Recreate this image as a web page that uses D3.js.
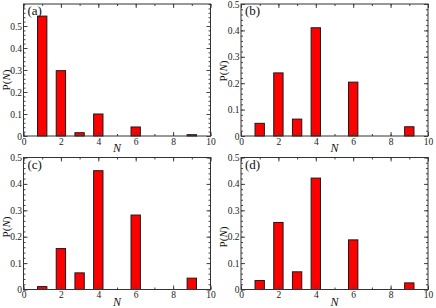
<!DOCTYPE html>
<html>
<head>
<meta charset="utf-8">
<script src="https://cdn.jsdelivr.net/npm/d3@7"></script>
<style>
  body { margin: 0; background: #fff; }
  svg text { font-family: "Liberation Serif", "DejaVu Serif", serif; }
</style>
</head>
<body>
<main></main>
<script>
// Data
const categories = [1, 2, 3, 4, 6, 9];
const seriesA = [0.545, 0.297, 0.015, 0.100, 0.041, 0.006];
const seriesB = [0.048, 0.239, 0.064, 0.410, 0.204, 0.035];
const seriesC = [0.011, 0.155, 0.063, 0.450, 0.282, 0.043];
const seriesD = [0.034, 0.254, 0.067, 0.422, 0.188, 0.025];
const panelLabels = ['(a)', '(b)', '(c)', '(d)'];
const yMaxes = [0.6, 0.5, 0.5, 0.5];
const xTicks = [0, 2, 4, 6, 8, 10];
const yTicks = [0, 0.1, 0.2, 0.3, 0.4, 0.5];

const series = [seriesA, seriesB, seriesC, seriesD];

// Layout
const width = 436, height = 308;
const panelW = 218, panelH = 154;
const margin = {left: 24, top: 4, right: 7};
const plotW = 187, plotH = 132;
const yLabelY = [80, 71, 73, 83];

const svg = d3.select('main').append('svg')
    .attr('width', width)
    .attr('height', height);

series.forEach((values, i) => {
    const col = i % 2, row = Math.floor(i / 2);
    const top = row === 0 ? margin.top : 3.5;
    const g = svg.append('g')
        .attr('transform', `translate(${col * panelW + margin.left - (col ? 1 : 0.5)},${row * panelH + top})`);

    const x = d3.scaleLinear().domain([0, 10]).range([0, plotW]);
    const y = d3.scaleLinear().domain([0, yMaxes[i]]).range([plotH, 0]);

    const minorY = d3.range(0, yMaxes[i] + 1e-9, 0.02);
    const minorX = d3.range(0, 11, 1);
    const barW = x(0.5) - x(0);

    // bars
    g.selectAll('rect.bar')
        .data(categories.map((c, k) => ({n: c, p: values[k]})))
        .enter()
        .append('rect')
        .attr('class', 'bar')
        .attr('x', d => x(d.n) - barW / 2)
        .attr('y', d => y(d.p))
        .attr('width', barW)
        .attr('height', d => y(0) - y(d.p))
        .attr('fill', '#ff0000')
        .attr('stroke', '#1a1a1a')
        .attr('stroke-width', 1);

    const styleAxis = sel => {
        sel.select('.domain').remove();
        sel.selectAll('line').attr('stroke', '#444');
        sel.selectAll('text').attr('fill', '#222').style('font-size', '9.5px');
    };

    // minor ticks, all four sides
    g.append('g').call(d3.axisLeft(y).tickValues(minorY).tickSize(-2).tickFormat('')).call(styleAxis);
    g.append('g').attr('transform', `translate(${plotW},0)`)
        .call(d3.axisRight(y).tickValues(minorY).tickSize(-2).tickFormat('')).call(styleAxis);
    g.append('g').attr('transform', `translate(0,${plotH})`)
        .call(d3.axisBottom(x).tickValues(minorX).tickSize(-2).tickFormat('')).call(styleAxis);
    g.append('g')
        .call(d3.axisTop(x).tickValues(minorX).tickSize(-2).tickFormat('')).call(styleAxis);

    // major ticks with labels
    g.append('g')
        .call(d3.axisLeft(y).tickValues(yTicks).tickSize(-4).tickPadding(1.5).tickFormat(d => d === 0 ? '0' : d3.format('.1f')(d)))
        .call(styleAxis);
    g.append('g').attr('transform', `translate(${plotW},0)`)
        .call(d3.axisRight(y).tickValues(yTicks).tickSize(-4).tickFormat('')).call(styleAxis);
    g.append('g').attr('transform', `translate(0,${plotH})`)
        .call(d3.axisBottom(x).tickValues(xTicks).tickSize(-4).tickPadding(2).tickFormat(d3.format('d')))
        .call(styleAxis);
    g.append('g')
        .call(d3.axisTop(x).tickValues(xTicks).tickSize(-4).tickFormat('')).call(styleAxis);

    // frame
    g.append('rect')
        .attr('width', plotW)
        .attr('height', plotH)
        .attr('fill', 'none')
        .attr('stroke', '#333')
        .attr('stroke-width', 1);

    // panel tag
    g.append('text')
        .attr('x', 4)
        .attr('y', 11)
        .style('font-size', '13px')
        .attr('fill', '#111')
        .text(panelLabels[i]);

    // x label
    g.append('text')
        .attr('x', plotW / 2)
        .attr('y', plotH + 16)
        .attr('text-anchor', 'middle')
        .style('font-size', '12px')
        .style('font-style', 'italic')
        .attr('fill', '#111')
        .text('N');

    // y label
    const yl = g.append('text')
        .attr('transform', `translate(-14,${yLabelY[i] - top}) rotate(-90)`)
        .attr('text-anchor', 'middle')
        .style('font-size', '11px')
        .attr('fill', '#111');
    yl.append('tspan').text('P(');
    yl.append('tspan').style('font-style', 'italic').text('N');
    yl.append('tspan').text(')');
});
</script>
</body>
</html>
